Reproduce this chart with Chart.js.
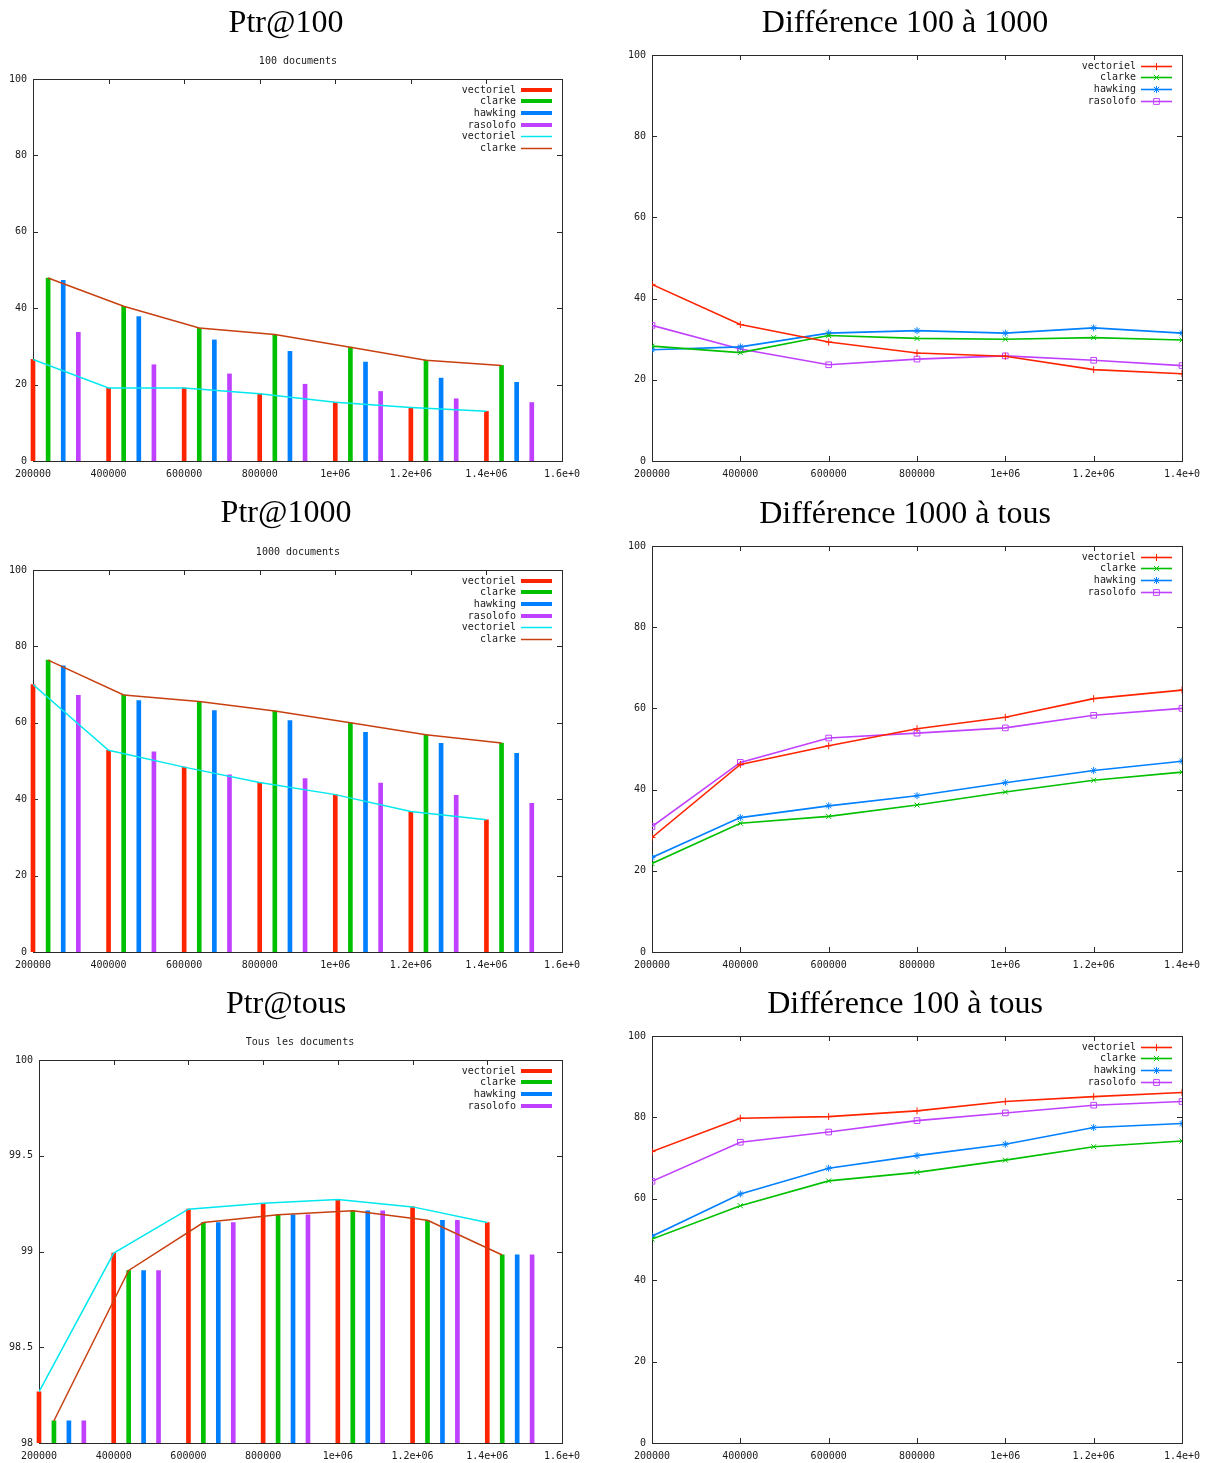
<!DOCTYPE html>
<html><head><meta charset="utf-8">
<script src="https://cdn.jsdelivr.net/npm/chart.js@4/dist/chart.umd.min.js"></script>
<style>
html,body{margin:0;padding:0;background:#fff;}
#wrap{position:relative;width:1210px;height:1463px;overflow:hidden;}
canvas{position:absolute;}
</style></head><body><div id="wrap"></div>
<script>
// ---------- data ----------
const sizes = [200000, 400000, 600000, 800000, 1000000, 1200000, 1400000];
const barGroupStep = 40000; // offset between series inside one size group
const xTicksBars = [200000, 400000, 600000, 800000, 1000000, 1200000, 1400000, 1600000];
const xLabelsBars = ['200000', '400000', '600000', '800000', '1e+06', '1.2e+06', '1.4e+06', '1.6e+0'];
const xTicksLines = [200000, 400000, 600000, 800000, 1000000, 1200000, 1400000];
const xLabelsLines = ['200000', '400000', '600000', '800000', '1e+06', '1.2e+06', '1.4e+0'];
const yTicksPct = [0, 20, 40, 60, 80, 100];
const yLabelsPct = ['0', '20', '40', '60', '80', '100'];
const yTicksTous = [98, 98.5, 99, 99.5, 100];
const yLabelsTous = ['98', '98.5', '99', '99.5', '100'];
const seriesNames = ['vectoriel', 'clarke', 'hawking', 'rasolofo'];

// Ptr@100 (100 documents)
const ptr100Vectoriel = [26.6, 19.1, 19.1, 17.6, 15.4, 14.0, 13.0];
const ptr100Clarke    = [47.9, 40.5, 34.8, 33.1, 29.8, 26.4, 25.0];
const ptr100Hawking   = [47.3, 37.8, 31.7, 28.7, 25.9, 21.7, 20.6];
const ptr100Rasolofo  = [33.7, 25.2, 22.8, 20.1, 18.2, 16.3, 15.3];

// Ptr@1000 (1000 documents)
const ptr1000Vectoriel = [70.0, 52.8, 48.4, 44.4, 41.2, 36.8, 34.6];
const ptr1000Clarke    = [76.4, 67.3, 65.6, 63.1, 60.0, 56.9, 54.7];
const ptr1000Hawking   = [74.9, 65.8, 63.2, 60.6, 57.5, 54.6, 52.0];
const ptr1000Rasolofo  = [67.2, 52.4, 46.4, 45.4, 44.2, 41.0, 38.9];

// Ptr@tous (tous les documents)
const ptrTousVectoriel = [98.267, 98.992, 99.221, 99.252, 99.271, 99.233, 99.151];
const ptrTousClarke    = [98.116, 98.901, 99.151, 99.192, 99.213, 99.163, 98.982];
const ptrTousHawking   = [98.116, 98.901, 99.151, 99.192, 99.213, 99.163, 98.982];
const ptrTousRasolofo  = [98.116, 98.901, 99.151, 99.192, 99.213, 99.163, 98.982];

// Différence 100 à 1000
const d100_1000Vectoriel = [43.5, 33.6, 29.3, 26.6, 25.8, 22.5, 21.5];
const d100_1000Clarke    = [28.3, 26.7, 30.9, 30.2, 30.0, 30.4, 29.8];
const d100_1000Hawking   = [27.4, 28.1, 31.5, 32.1, 31.5, 32.8, 31.5];
const d100_1000Rasolofo  = [33.4, 27.6, 23.7, 25.1, 25.9, 24.8, 23.5];

// Différence 1000 à tous
const d1000_tousVectoriel = [28.2, 46.2, 50.8, 55.0, 57.8, 62.4, 64.5];
const d1000_tousClarke    = [21.8, 31.7, 33.4, 36.2, 39.4, 42.3, 44.3];
const d1000_tousHawking   = [23.3, 33.1, 36.0, 38.5, 41.7, 44.7, 47.0];
const d1000_tousRasolofo  = [30.9, 46.7, 52.7, 53.9, 55.2, 58.3, 60.0];

// Différence 100 à tous
const d100_tousVectoriel = [71.6, 79.8, 80.2, 81.6, 83.9, 85.1, 86.1];
const d100_tousClarke    = [50.1, 58.3, 64.4, 66.5, 69.5, 72.8, 74.2];
const d100_tousHawking   = [50.8, 61.2, 67.5, 70.6, 73.4, 77.5, 78.5];
const d100_tousRasolofo  = [64.3, 73.9, 76.4, 79.2, 81.1, 83.0, 83.9];

// ---------- styles ----------
const COL = {red: '#ff2400', green: '#00c000', blue: '#0080ff', purple: '#c040ff', cyan: '#00e8ee', brown: '#c84010'};
const seriesColors = [COL.red, COL.green, COL.blue, COL.purple];
const seriesMarkers = ['cross', 'crossRot', 'star', 'rect'];
const MONO = '"DejaVu Sans Mono", "Liberation Mono", monospace';
const TXT = '#1a1a1a';

function pts(vals, shift) { return sizes.map((s, i) => ({x: s + shift, y: vals[i]})); }

function barSets(arrs) {
  return arrs.map((vals, k) => ({
    type: 'bar', label: seriesNames[k], data: pts(vals, k * barGroupStep),
    backgroundColor: seriesColors[k], borderWidth: 0, barThickness: 4, grouped: false,
    clip: {left: 4, right: 4, top: 4, bottom: 0}, order: 2, gpKind: 'bar'
  }));
}
function lineOverlay(vals, k, color, inLegend) {
  return {type: 'line', label: seriesNames[k], data: pts(vals, k * barGroupStep),
    borderColor: color, backgroundColor: color, borderWidth: 1.5, pointRadius: 0, tension: 0,
    order: 1, gpKind: 'line', gpLegend: inLegend};
}
function lineSets(arrs) {
  return arrs.map((vals, k) => ({
    type: 'line', label: seriesNames[k], data: pts(vals, 0),
    borderColor: seriesColors[k], backgroundColor: 'rgba(0,0,0,0)', borderWidth: 1.6, tension: 0,
    pointStyle: seriesMarkers[k], pointRadius: seriesMarkers[k] === 'rect' ? 4 : 3.5,
    pointBorderColor: seriesColors[k], pointBackgroundColor: 'rgba(0,0,0,0)', pointBorderWidth: 1,
    gpKind: 'line', gpMarker: seriesMarkers[k]
  }));
}

function drawMarker(ctx, style, x, y, r) {
  ctx.beginPath();
  if (style === 'cross' || style === 'star') { ctx.moveTo(x - r, y); ctx.lineTo(x + r, y); ctx.moveTo(x, y - r); ctx.lineTo(x, y + r); }
  if (style === 'crossRot' || style === 'star') { const d = r * 0.75; ctx.moveTo(x - d, y - d); ctx.lineTo(x + d, y + d); ctx.moveTo(x - d, y + d); ctx.lineTo(x + d, y - d); }
  if (style === 'rect') { const s = r * 0.72; ctx.rect(x - s, y - s, 2 * s, 2 * s); }
  ctx.stroke();
}

const gpPlugin = {
  id: 'gp',
  beforeDatasetsDraw(chart, args, o) {
    const {ctx, chartArea: a} = chart;
    ctx.save();
    ctx.strokeStyle = '#2a2a2a'; ctx.lineWidth = 1;
    ctx.strokeRect(a.left + 0.5, a.top + 0.5, a.right - a.left, a.bottom - a.top);
    const ys = chart.scales.y, xs = chart.scales.x;
    ctx.beginPath();
    ys.ticks.forEach(t => {
      const y = Math.round(ys.getPixelForValue(t.value)) + 0.5;
      ctx.moveTo(a.left, y); ctx.lineTo(a.left + 5, y);
      ctx.moveTo(a.right - 5, y); ctx.lineTo(a.right, y);
    });
    xs.ticks.forEach(t => {
      const x = Math.round(xs.getPixelForValue(t.value)) + 0.5;
      ctx.moveTo(x, a.bottom); ctx.lineTo(x, a.bottom - 5);
      ctx.moveTo(x, a.top); ctx.lineTo(x, a.top + 5);
    });
    ctx.stroke();
    ctx.restore();
  },
  afterDatasetsDraw(chart, args, o) {
    const {ctx, chartArea: a} = chart;
    ctx.save();
    ctx.font = '10px ' + MONO;
    ctx.textAlign = 'right'; ctx.textBaseline = 'middle';
    let row = 0;
    chart.data.datasets.forEach(ds => {
      if (ds.gpLegend === false) return;
      const y = Math.round(a.top + 10.5 + row * 11.7);
      ctx.fillStyle = TXT;
      ctx.fillText(ds.label, a.right - 46, y + 0.5);
      const x0 = a.right - 41, x1 = a.right - 10;
      if (ds.gpKind === 'bar') {
        ctx.fillStyle = ds.backgroundColor;
        ctx.fillRect(x0, y - 2, x1 - x0, 4);
      } else {
        ctx.strokeStyle = ds.borderColor; ctx.lineWidth = ds.borderWidth;
        ctx.beginPath(); ctx.moveTo(x0, y + 0.5); ctx.lineTo(x1, y + 0.5); ctx.stroke();
        if (ds.gpMarker) { ctx.lineWidth = 1; drawMarker(ctx, ds.gpMarker, (x0 + x1) / 2, y + 0.5, ds.gpMarker === 'rect' ? 4 : 3.5); }
      }
      row++;
    });
    ctx.restore();
  },
  afterDraw(chart, args, o) {
    const ctx = chart.ctx;
    ctx.save();
    ctx.fillStyle = '#000';
    ctx.textAlign = 'center'; ctx.textBaseline = 'middle';
    ctx.font = '32px "Liberation Serif", "DejaVu Serif", serif';
    ctx.fillText(o.title, o.titleX - o.cx, o.titleY - o.cy);
    if (o.subtitle) {
      ctx.font = '10px ' + MONO; ctx.fillStyle = TXT;
      ctx.fillText(o.subtitle, o.subX - o.cx, o.subY - o.cy);
    }
    ctx.restore();
  }
};

const wrap = document.getElementById('wrap');
function makePanel(p) {
  const c = document.createElement('canvas');
  c.width = p.w; c.height = p.h;
  c.style.left = p.cx + 'px'; c.style.top = p.cy + 'px';
  wrap.appendChild(c);
  const tickFont = {family: MONO, size: 10};
  new Chart(c, {
    type: p.type,
    data: {datasets: p.datasets},
    options: {
      responsive: false, animation: false, devicePixelRatio: 1,
      layout: {autoPadding: false, padding: {left: 0, top: p.area.T - p.cy, right: p.cx + p.w - p.area.R, bottom: 0}},
      plugins: {
        legend: {display: false}, tooltip: {enabled: false}, title: {display: false},
        gp: {title: p.title, titleX: p.titleX, titleY: p.titleY, subtitle: p.subtitle, subX: p.subX, subY: p.subY, cx: p.cx, cy: p.cy}
      },
      scales: {
        x: {
          type: 'linear', min: p.xTicks[0], max: p.xTicks[p.xTicks.length - 1], offset: false,
          grid: {display: false, drawTicks: false}, border: {display: false},
          afterBuildTicks: ax => { ax.ticks = p.xTicks.map(v => ({value: v})); },
          afterFit: ax => { ax.height = p.cy + p.h - p.area.B; },
          ticks: {font: tickFont, color: TXT, padding: 7, maxRotation: 0, autoSkip: false,
                  callback: (v, i) => p.xLabels[i]}
        },
        y: {
          type: 'linear', min: p.yTicks[0], max: p.yTicks[p.yTicks.length - 1],
          grid: {display: false, drawTicks: false}, border: {display: false},
          afterBuildTicks: ax => { ax.ticks = p.yTicks.map(v => ({value: v})); },
          afterFit: ax => { ax.width = p.area.L - p.cx; },
          ticks: {font: tickFont, color: TXT, padding: 6, autoSkip: false,
                  callback: (v, i) => p.yLabels[i]}
        }
      }
    },
    plugins: [gpPlugin]
  });
}

// ---------- panels ----------
makePanel({
  type: 'bar', cx: 0, cy: 0, w: 605, h: 490, area: {L: 33, T: 79, R: 562, B: 461},
  title: 'Ptr@100', titleX: 286, titleY: 24, subtitle: '100 documents', subX: 298, subY: 61,
  xTicks: xTicksBars, xLabels: xLabelsBars, yTicks: yTicksPct, yLabels: yLabelsPct,
  datasets: [
    ...barSets([ptr100Vectoriel, ptr100Clarke, ptr100Hawking, ptr100Rasolofo]),
    lineOverlay(ptr100Vectoriel, 0, COL.cyan, true),
    lineOverlay(ptr100Clarke, 1, COL.brown, true)
  ]
});
makePanel({
  type: 'line', cx: 605, cy: 0, w: 605, h: 490, area: {L: 652, T: 55, R: 1182, B: 461},
  title: 'Différence 100 à 1000', titleX: 905, titleY: 24,
  xTicks: xTicksLines, xLabels: xLabelsLines, yTicks: yTicksPct, yLabels: yLabelsPct,
  datasets: lineSets([d100_1000Vectoriel, d100_1000Clarke, d100_1000Hawking, d100_1000Rasolofo])
});
makePanel({
  type: 'bar', cx: 0, cy: 490, w: 605, h: 490, area: {L: 33, T: 570, R: 562, B: 952},
  title: 'Ptr@1000', titleX: 286, titleY: 514, subtitle: '1000 documents', subX: 298, subY: 552,
  xTicks: xTicksBars, xLabels: xLabelsBars, yTicks: yTicksPct, yLabels: yLabelsPct,
  datasets: [
    ...barSets([ptr1000Vectoriel, ptr1000Clarke, ptr1000Hawking, ptr1000Rasolofo]),
    lineOverlay(ptr1000Vectoriel, 0, COL.cyan, true),
    lineOverlay(ptr1000Clarke, 1, COL.brown, true)
  ]
});
makePanel({
  type: 'line', cx: 605, cy: 490, w: 605, h: 490, area: {L: 652, T: 546, R: 1182, B: 952},
  title: 'Différence 1000 à tous', titleX: 905, titleY: 515,
  xTicks: xTicksLines, xLabels: xLabelsLines, yTicks: yTicksPct, yLabels: yLabelsPct,
  datasets: lineSets([d1000_tousVectoriel, d1000_tousClarke, d1000_tousHawking, d1000_tousRasolofo])
});
makePanel({
  type: 'bar', cx: 0, cy: 980, w: 605, h: 483, area: {L: 39, T: 1060, R: 562, B: 1443},
  title: 'Ptr@tous', titleX: 286, titleY: 1005, subtitle: 'Tous les documents', subX: 300, subY: 1042,
  xTicks: xTicksBars, xLabels: xLabelsBars, yTicks: yTicksTous, yLabels: yLabelsTous,
  datasets: [
    ...barSets([ptrTousVectoriel, ptrTousClarke, ptrTousHawking, ptrTousRasolofo]),
    lineOverlay(ptrTousVectoriel, 0, COL.cyan, false),
    lineOverlay(ptrTousClarke, 1, COL.brown, false)
  ]
});
makePanel({
  type: 'line', cx: 605, cy: 980, w: 605, h: 483, area: {L: 652, T: 1036, R: 1182, B: 1443},
  title: 'Différence 100 à tous', titleX: 905, titleY: 1005,
  xTicks: xTicksLines, xLabels: xLabelsLines, yTicks: yTicksPct, yLabels: yLabelsPct,
  datasets: lineSets([d100_tousVectoriel, d100_tousClarke, d100_tousHawking, d100_tousRasolofo])
});
</script></body></html>
